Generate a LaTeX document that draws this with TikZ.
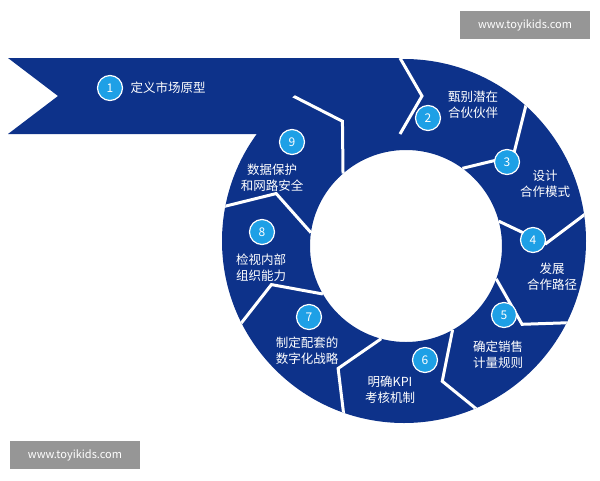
\documentclass[tikz,border=0pt]{standalone}
\usepackage{fontspec}
\setmainfont{Noto Sans CJK SC}
\usetikzlibrary{calc}
\definecolor{ringblue}{RGB}{13,50,138}
\definecolor{numblue}{RGB}{30,160,230}
\definecolor{markgray}{RGB}{150,150,150}
\begin{document}
\begin{tikzpicture}[x=1pt,y=-1pt]
    \tikzset{num/.style = {circle,fill=numblue,draw=white,line width=1.2pt,minimum size=25pt,inner sep=0pt,text=white,font=\fontsize{12}{12}\selectfont}}
    \tikzset{step text/.style = {text=white,align=center,font=\fontsize{12.5}{16}\selectfont}}
    \tikzset{watermark/.style = {fill=markgray,text=white,minimum width=130pt,minimum height=28pt,font=\fontsize{11}{11}\selectfont}}
    \useasboundingbox (0,0) rectangle (600,480);
    \coordinate (c) at (406,246);
    \coordinate (o) at (404,241);
    % banner and ring
    \fill[ringblue] (8,58) -- (400,58) -- (422,96) -- (400,134) -- (8,134) -- (58,96) -- cycle;
    \fill[ringblue,even odd rule] (o) circle (182) (c) circle (96);
    % separators between the steps
    \begin{scope}
    \clip (o) circle (182);
    \foreach \a in {54,15,-20,-61,-105,-150,172,131}
        \draw[white,line width=3pt,line join=miter] ($(c)+(-\a:96)$) -- ($(c)+(-\a+14:140)$) -- ($(c)+(-\a:220)$);
    \end{scope}
    \draw[white,line width=3pt] (400,58) -- (422,96) -- (400,134);
    % step 1
    \node[num] (n1) at (110,88) {1};
    \node[step text,anchor=west] (t1) at ([xshift=4pt]n1.east) {定义市场原型};
    % steps around the ring
    \node[num] (n2) at (428,118) {2};
    \node[step text] (t2) at (473,105) {甄别潜在\\合伙伙伴};
    \node[num] (n3) at (507,162) {3};
    \node[step text] (t3) at (545,184) {设计\\合作模式};
    \node[num] (n4) at (533,240) {4};
    \node[step text] (t4) at (552,277) {发展\\合作路径};
    \node[num] (n5) at (504,315) {5};
    \node[step text] (t5) at (498,355) {确定销售\\计量规则};
    \node[num] (n6) at (425,360) {6};
    \node[step text] (t6) at (390,390) {明确KPI\\考核机制};
    \node[num] (n7) at (309,317) {7};
    \node[step text] (t7) at (307,351) {制定配套的\\数字化战略};
    \node[num] (n8) at (262,232) {8};
    \node[step text] (t8) at (261,268) {检视内部\\组织能力};
    \node[num] (n9) at (292,142) {9};
    \node[step text] (t9) at (272,178) {数据保护\\和网路安全};
    % watermarks
    \node[watermark] (m1) at (525,25) {www.toyikids.com};
    \node[watermark] (m2) at (75,455) {www.toyikids.com};
\end{tikzpicture}
\end{document}
